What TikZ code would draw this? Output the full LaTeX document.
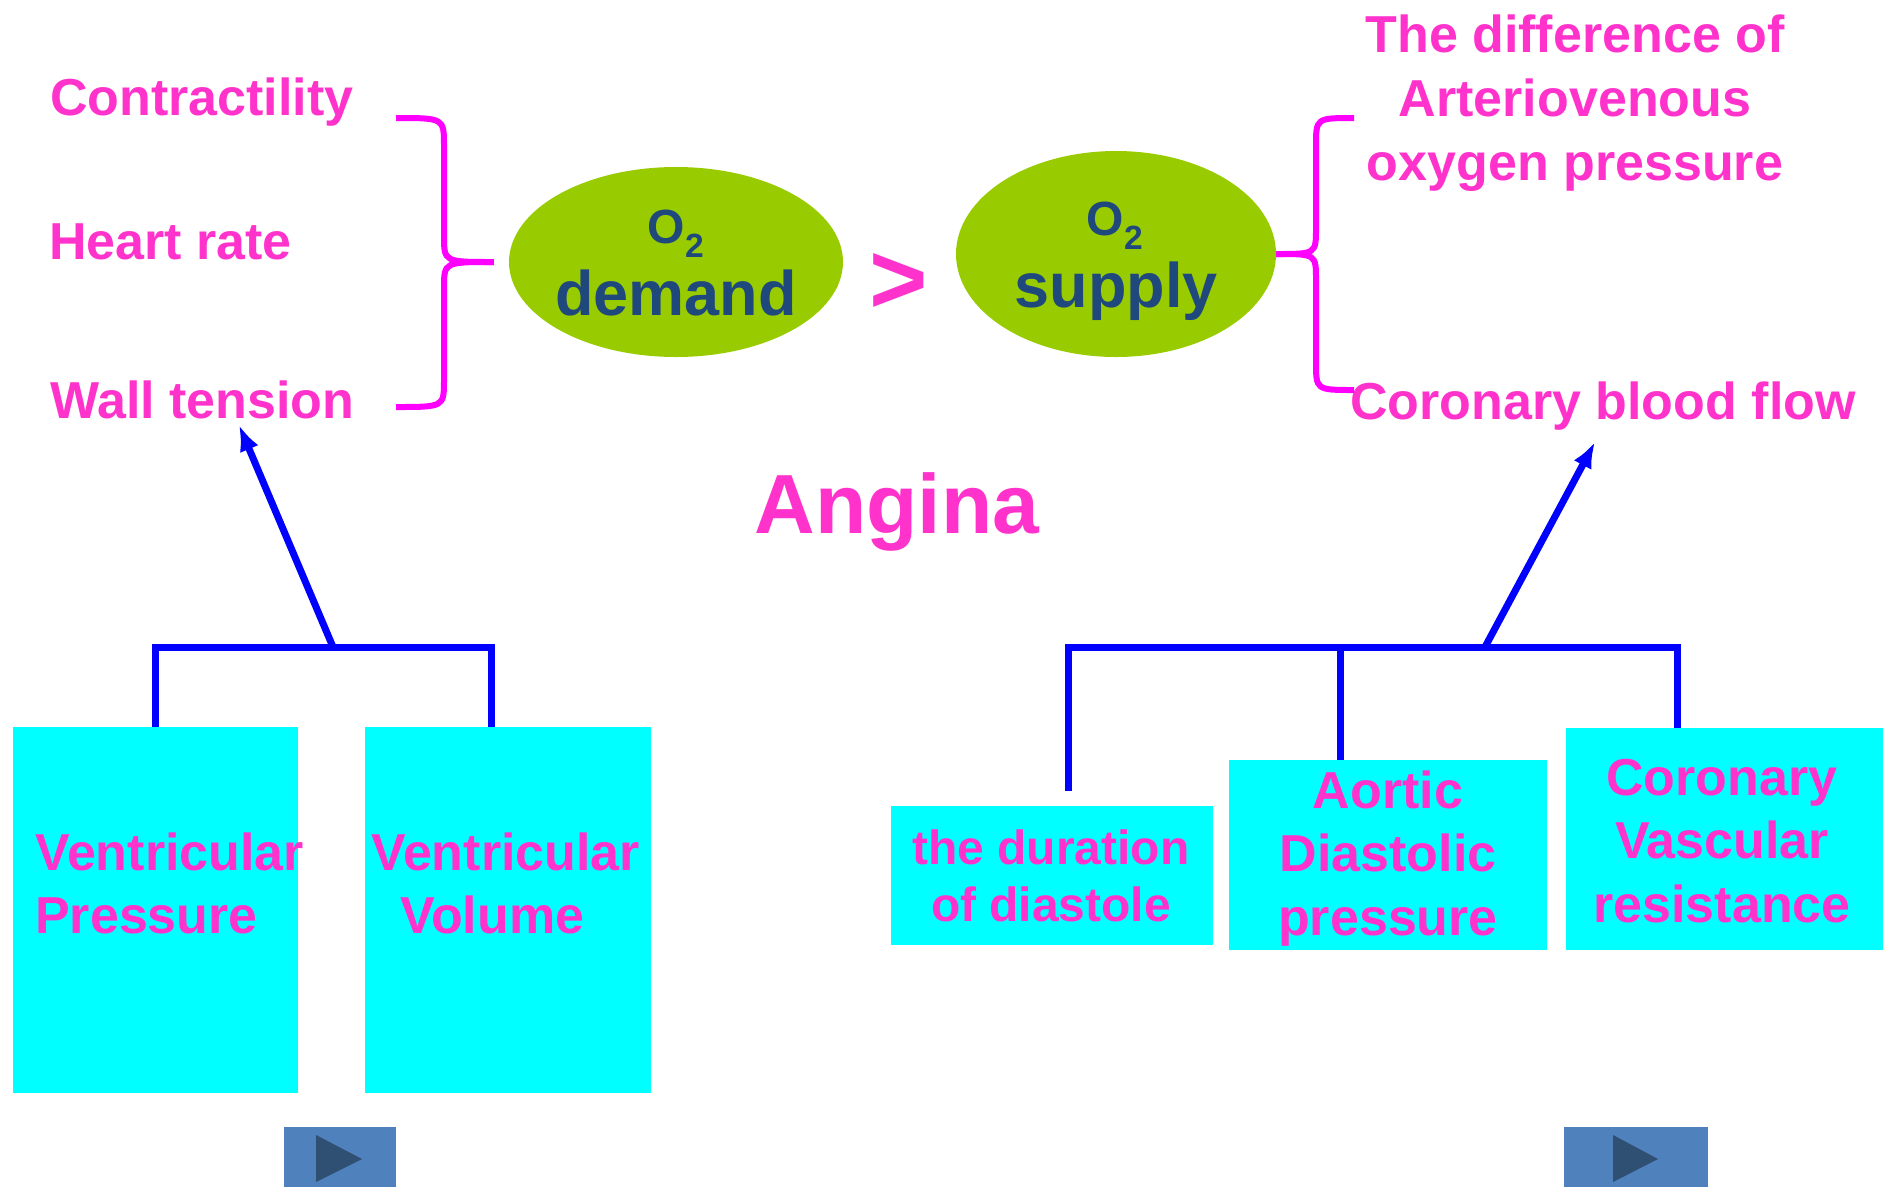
\documentclass[tikz,border=0pt]{standalone}
\usepackage{fontspec}
\setmainfont{Liberation Sans}
\usetikzlibrary{shapes.geometric,arrows.meta}
\definecolor{pinktext}{HTML}{FF33CC}
\definecolor{bracepink}{HTML}{FF00FF}
\definecolor{linkblue}{HTML}{0000FF}
\definecolor{boxcyan}{HTML}{00FFFF}
\definecolor{ovalgreen}{HTML}{99CC00}
\definecolor{ovaltext}{HTML}{1F497D}
\definecolor{btnblue}{HTML}{4F81BD}
\definecolor{btntri}{HTML}{2F4F73}
\tikzset{
  factor/.style={text=pinktext,font=\bfseries\fontsize{52}{63}\selectfont,inner sep=0pt},
  oval/.style={ellipse,fill=ovalgreen,inner sep=0pt},
  ovaltxt/.style={text=ovaltext,font=\bfseries\fontsize{63}{72}\selectfont,inner sep=0pt},
  gastxt/.style={text=ovaltext,font=\bfseries\fontsize{48}{56}\selectfont,inner sep=0pt},
  cbox/.style={fill=boxcyan,inner sep=0pt},
  brace/.style={draw=bracepink,line width=6pt},
  link/.style={draw=linkblue,line width=7pt},
}
\begin{document}
\begin{tikzpicture}[x=1pt,y=-1pt,>={Latex[length=26pt,width=20pt]}]
    \useasboundingbox (0,0) rectangle (1887,1187);
    % demand begin
    \node[factor,anchor=base west] (contr) at (50,115) {Contractility};
    \node[factor,anchor=base west] (hrate) at (49,259) {Heart rate};
    \node[factor,anchor=base west] (wall) at (50,418) {Wall tension};
    \node[oval,minimum width=334pt,minimum height=190pt] (demand) at (676,262) {};
    \node[gastxt,anchor=base] (demando) at (676,243) {O\textsubscript{2}};
    \node[ovaltxt,anchor=base] (demandtxt) at (676,315) {demand};
    \coordinate (ltip) at ([xshift=-15pt]demand.west);
    \draw[brace] (396,118) .. controls (444,118) .. (444,146) -- (444,236) .. controls (444,262) .. (ltip);
    \draw[brace] (ltip) .. controls (444,262) .. (444,288) -- (444,380) .. controls (444,407) .. (396,407);
    % demand end
    \node[factor,anchor=base,font=\bfseries\fontsize{100}{100}\selectfont] (gt) at (899,313) {>};
    % supply begin
    \node[oval,minimum width=320pt,minimum height=206pt] (supply) at (1116,254) {};
    \node[gastxt,anchor=base] (supplyo) at (1115,235) {O\textsubscript{2}};
    \node[ovaltxt,anchor=base] (supplytxt) at (1116,307) {supply};
    \node[factor,anchor=base,align=center,font=\bfseries\fontsize{52}{64}\selectfont] (avdiff) at (1575,180)
        {The difference of\\Arteriovenous\\oxygen pressure};
    \node[factor,anchor=base west] (cbf) at (1350,419) {Coronary blood flow};
    \draw[brace] (1354,118) .. controls (1316,118) .. (1316,146) -- (1316,228) .. controls (1316,254) .. (supply.east);
    \draw[brace] (supply.east) .. controls (1316,254) .. (1316,280) -- (1316,362) .. controls (1316,390) .. (1354,390);
    % supply end
    \node[factor,anchor=base,font=\bfseries\fontsize{84}{90}\selectfont] (angina) at (897,533) {Angina};
    % boxes
    \node[cbox,minimum width=285pt,minimum height=366pt] (vp) at (155.5,910) {};
    \node[cbox,minimum width=286pt,minimum height=366pt] (vv) at (508,910) {};
    \node[cbox,minimum width=322pt,minimum height=139pt] (dur) at (1052,875.5) {};
    \node[cbox,minimum width=318pt,minimum height=190pt] (adp) at (1388,855) {};
    \node[cbox,minimum width=317pt,minimum height=222pt] (cvr) at (1724.5,839) {};
    \node[factor,anchor=base west,align=left] (vptxt) at (35,933) {Ventricular\\Pressure};
    \node[factor,anchor=base west,align=left] (vvtxt) at (371,933) {Ventricular\\\hspace*{29pt}Volume};
    \node[factor,anchor=base,align=center,font=\bfseries\fontsize{48}{57}\selectfont] (durtxt) at (1051,921)
        {the duration\\of diastole};
    \node[factor,anchor=base,align=center,font=\bfseries\fontsize{52}{63.5}\selectfont] (adptxt) at (1388,935)
        {Aortic\\Diastolic\\pressure};
    \node[factor,anchor=base,align=center,font=\bfseries\fontsize{52}{63.5}\selectfont] (cvrtxt) at (1722,922)
        {Coronary\\Vascular\\resistance};
    % left links
    \coordinate (lj) at (333,647);
    \coordinate (lr) at (491,647);
    \coordinate (lhead) at (239,425);
    \draw[link] (vp.north) |- (lr) -- (lr |- vv.north);
    \draw[link,->] (lj) -- (lhead);
    % right links
    \coordinate (rl) at (1068,647);
    \coordinate (rlend) at (1068,791);
    \coordinate (rm) at (1340,647);
    \coordinate (rr) at (1677,647);
    \coordinate (rj) at (1485,647);
    \coordinate (rhead) at (1595,442);
    \draw[link] (rlend) -- (rl) -- (rr) -- (rr |- cvr.north);
    \draw[link] (rm) -- (rm |- adp.north);
    \draw[link,->] (rj) -- (rhead);
    % buttons
    \fill[btnblue] (284,1127) rectangle (396,1187);
    \fill[btntri] (316,1135) -- (362,1159) -- (316,1182) -- cycle;
    \fill[btnblue] (1564,1127) rectangle (1708,1187);
    \fill[btntri] (1613,1135) -- (1658,1159) -- (1613,1182) -- cycle;
\end{tikzpicture}
\end{document}
